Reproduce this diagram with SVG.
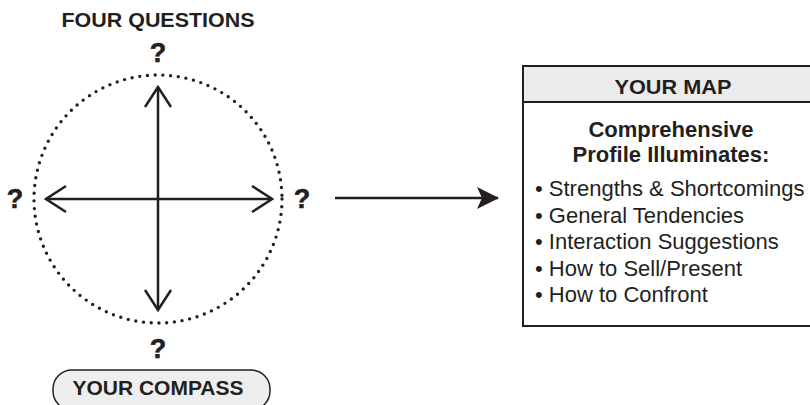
<svg xmlns="http://www.w3.org/2000/svg" width="810" height="405" viewBox="0 0 810 405">
  <defs>
    <style>
      .hd { font-family: "Liberation Sans", Arial, sans-serif; font-weight: bold; font-size: 21px; fill: #231f20; text-anchor: middle; }
      .q { font-family: "Liberation Sans", Arial, sans-serif; font-weight: bold; font-size: 27px; fill: #231f20; stroke: #231f20; stroke-width: 0.6; text-anchor: middle; }
      .sub { font-family: "Liberation Sans", Arial, sans-serif; font-weight: bold; font-size: 22px; fill: #231f20; text-anchor: middle; }
      .bl { font-family: "Liberation Sans", Arial, sans-serif; font-size: 22px; fill: #231f20; }
      .axis { stroke: #231f20; stroke-width: 2.5; fill: none; }
      .chev { stroke: #231f20; stroke-width: 2.5; fill: none; stroke-linecap: butt; stroke-linejoin: miter; }
      .dots { stroke: #231f20; stroke-width: 3.4; fill: none; stroke-linecap: round; stroke-dasharray: 0 7.75; }
    </style>
    <marker id="open" viewBox="0 0 24 30" refX="22" refY="15" markerWidth="24" markerHeight="30" markerUnits="userSpaceOnUse" orient="auto">
      <path d="M2,2 L22,15 L2,28" class="chev"/>
    </marker>
    <marker id="solid" viewBox="0 0 22 22" refX="21" refY="11" markerWidth="22" markerHeight="22" markerUnits="userSpaceOnUse" orient="auto">
      <path d="M0,0 L22,11 L0,22 L5,11 Z" fill="#231f20"/>
    </marker>
  </defs>

  <g id="compass">
    <text class="hd" x="158" y="27" textLength="193" lengthAdjust="spacingAndGlyphs">FOUR QUESTIONS</text>
    <circle cx="158" cy="199" r="124" class="dots"/>
    <text class="q" x="158" y="62">?</text>
    <text class="q" x="15" y="208">?</text>
    <text class="q" x="302" y="208">?</text>
    <text class="q" x="158" y="358">?</text>
  </g>

  <g id="compass-label">
    <rect x="53" y="370" width="217" height="40" rx="19" ry="19" fill="#eeeeee" stroke="#231f20" stroke-width="1.5"/>
    <text class="hd" x="158" y="395" textLength="171" lengthAdjust="spacingAndGlyphs">YOUR COMPASS</text>
  </g>

  <g id="map">
    <rect x="523" y="66" width="296" height="260" fill="#ffffff" stroke="#231f20" stroke-width="2"/>
    <rect x="523" y="66" width="296" height="36" fill="#ebebeb" stroke="#231f20" stroke-width="2"/>
    <text class="hd" x="673" y="94" textLength="117" lengthAdjust="spacingAndGlyphs">YOUR MAP</text>
    <text class="sub" x="671" y="137">Comprehensive</text>
    <text class="sub" x="671" y="162">Profile Illuminates:</text>
    <text class="bl" x="535" y="196">• Strengths &amp; Shortcomings</text>
    <text class="bl" x="535" y="222.5">• General Tendencies</text>
    <text class="bl" x="535" y="249">• Interaction Suggestions</text>
    <text class="bl" x="535" y="275.5">• How to Sell/Present</text>
    <text class="bl" x="535" y="302">• How to Confront</text>
  </g>

  <g id="connectors">
    <line x1="158" y1="199" x2="158" y2="87" class="axis" marker-end="url(#open)"/>
    <line x1="158" y1="199" x2="158" y2="310" class="axis" marker-end="url(#open)"/>
    <line x1="158" y1="199" x2="46" y2="199" class="axis" marker-end="url(#open)"/>
    <line x1="158" y1="199" x2="272" y2="199" class="axis" marker-end="url(#open)"/>
    <line x1="335" y1="198" x2="498" y2="198" class="axis" marker-end="url(#solid)"/>
  </g>
</svg>
